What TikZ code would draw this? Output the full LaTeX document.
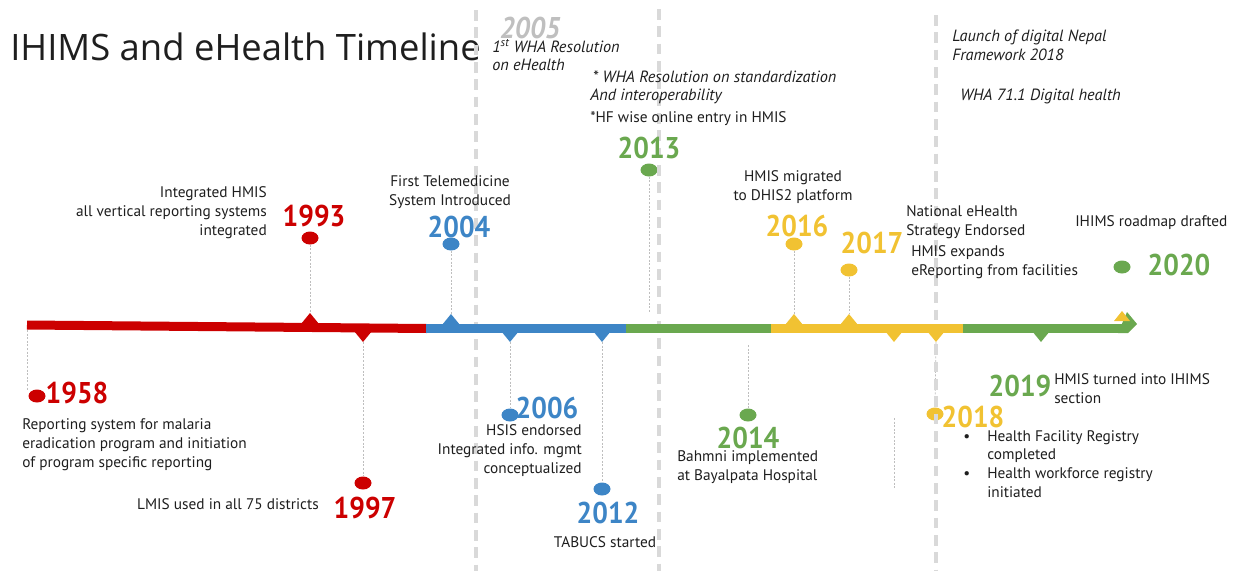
\documentclass[tikz,border=0pt]{standalone}
\usepackage{fontspec}
\setmainfont{PT Sans}
\newfontfamily\titlefont{Open Sans}
\newfontfamily\yearfont[FakeStretch=0.92]{PT Sans}
\usetikzlibrary{shapes.geometric}
\definecolor{cred}{RGB}{204,0,0}
\definecolor{cblue}{RGB}{61,133,198}
\definecolor{cgreen}{RGB}{106,168,79}
\definecolor{cyellow}{RGB}{241,194,50}
\definecolor{cgrid}{RGB}{217,217,217}
\definecolor{cconn}{RGB}{190,190,190}
\definecolor{ctext}{RGB}{30,30,30}
\definecolor{cyear05}{RGB}{191,191,191}
\tikzset{
  dotm/.style={ellipse, inner sep=0pt, minimum width=12.75pt, minimum height=9.75pt, fill=#1},
  yr/.style={font=\yearfont\bfseries\fontsize{22.5}{24}\selectfont, text=#1, inner sep=0pt},
  txt/.style={font=\fontsize{11.5}{13.9}\selectfont, text=ctext, inner sep=0pt},
  itxt/.style={font=\fontsize{12.2}{13.5}\selectfont\itshape, text=ctext, inner sep=0pt},
  conn/.style={draw=cconn, line width=0.5pt, dash pattern=on 1.5pt off 1.2pt},
  gridline/.style={draw=cgrid, line width=2.3pt, dash pattern=on 8pt off 5pt},
  bar/.style={line width=6.75pt, draw=#1}
}
\begin{document}
\begin{tikzpicture}[x=0.75pt,y=-0.75pt]
\useasboundingbox (0,0) rectangle (1248,571);

% title
\node[font=\titlefont\fontsize{27.3}{30}\selectfont, text=ctext, inner sep=0pt, anchor=base west] (title) at (10,60) {IHIMS and eHealth Timeline};

% dots
\node[dotm=cred] (d1958) at (37,396) {};
\node[dotm=cred] (d1993) at (310,238) {};
\node[dotm=cred] (d1997) at (363,483) {};
\node[dotm=cblue] (d2004) at (451,244) {};
\node[dotm=cblue] (d2006) at (510,415) {};
\node[dotm=cblue] (d2012) at (602,489) {};
\node[dotm=cgreen] (d2013) at (649,170) {};
\node[dotm=cgreen] (d2014) at (748,415) {};
\node[dotm=cyellow] (d2016) at (794,244) {};
\node[dotm=cyellow] (d2017) at (849,270) {};
\node[dotm=cyellow] (d2018) at (935,414) {};
\node[dotm=cgreen] (d2020) at (1122,267) {};

% triangle tip coordinates
\coordinate (t1958) at (27,330);
\coordinate (t1993) at (310,313);
\coordinate (t1997) at (363,342);
\coordinate (t2004) at (451,314);
\coordinate (t2006) at (510,342);
\coordinate (t2012) at (602,342);
\coordinate (t2013) at (649,313);
\coordinate (t2014) at (748,345);
\coordinate (t2016) at (794,314);
\coordinate (t2017) at (849,314);
\coordinate (ty1) at (894,342);
\coordinate (t2018) at (936,342);
\coordinate (t2019) at (1041,342);
\coordinate (t2020) at (1122,311);
\coordinate (f1) at (894,418);
\coordinate (f2) at (894,488);
\coordinate (e1958) at (27,390);

% connectors
\draw[conn] (t1958) -- (e1958);
\draw[conn] (d1993.south) -- (t1993);
\draw[conn] (t1997) -- (d1997.north);
\draw[conn] (d2004.south) -- (t2004);
\draw[conn] (t2006) -- (d2006.north);
\draw[conn] (t2012) -- (d2012.north);
\draw[conn] (d2013.south) -- (t2013);
\draw[conn] (t2014) -- (d2014.north);
\draw[conn] (d2016.south) -- (t2016);
\draw[conn] (d2017.south) -- (t2017);
\draw[conn] (t2018) -- (d2018.north);
\draw[conn] (f1) -- (f2);

% gray dashed era lines
\coordinate (g1a) at (476,10); \coordinate (g1b) at (476,571);
\coordinate (g2a) at (659,9);  \coordinate (g2b) at (659,571);
\coordinate (g3a) at (936,15); \coordinate (g3b) at (936,571);
\draw[gridline] (g1a) -- (g1b);
\draw[gridline] (g2a) -- (g2b);
\draw[gridline] (g3a) -- (g3b);

% main bar
\draw[bar=cred] (27,325) -- (427,328.5);
\draw[bar=cblue] (426,328.5) -- (627,328.5);
\draw[bar=cgreen] (626,328.5) -- (772,328.5);
\draw[bar=cyellow] (771,328.5) -- (964,328.5);
\draw[bar=cgreen] (963,328.5) -- (1128,328.5);
\fill[cgreen] (1118,333) -- (1127,312) -- (1137,324) -- (1128,333) -- cycle;

% up triangles
\fill[cred] (t1993) -- ++(9,11) -- ++(-18,0) -- cycle;
\fill[cblue] (t2004) -- ++(9,11) -- ++(-18,0) -- cycle;
\fill[cyellow] (t2016) -- ++(9,11) -- ++(-18,0) -- cycle;
\fill[cyellow] (t2017) -- ++(9,11) -- ++(-18,0) -- cycle;
\fill[cyellow] (t2020) -- ++(8,10) -- ++(-16,0) -- cycle;
% down triangles
\fill[cred] (t1997) -- ++(9,-11) -- ++(-18,0) -- cycle;
\fill[cblue] (t2006) -- ++(9,-11) -- ++(-18,0) -- cycle;
\fill[cblue] (t2012) -- ++(9,-11) -- ++(-18,0) -- cycle;
\fill[cyellow] (ty1) -- ++(9,-11) -- ++(-18,0) -- cycle;
\fill[cyellow] (t2018) -- ++(9,-11) -- ++(-18,0) -- cycle;
\fill[cgreen] (t2019) -- ++(9,-11) -- ++(-18,0) -- cycle;

% years
\node[yr=cyear05, font=\yearfont\bfseries\itshape\fontsize{22.5}{24}\selectfont] (y2005) at (530,28) {2005};
\node[yr=cgreen] (y2013) at (649,148) {2013};
\node[yr=cred] (y1993) at (314,216) {1993};
\node[yr=cblue] (y2004) at (459,227) {2004};
\node[yr=cyellow] (y2016) at (797,226) {2016};
\node[yr=cyellow] (y2017) at (872,243) {2017};
\node[yr=cgreen] (y2020) at (1179,265) {2020};
\node[yr=cred] (y1958) at (77,393) {1958};
\node[yr=cred] (y1997) at (365,508) {1997};
\node[yr=cblue] (y2006) at (547,408) {2006};
\node[yr=cblue] (y2012) at (608,513) {2012};
\node[yr=cgreen] (y2014) at (748,438) {2014};
\node[yr=cgreen] (y2019) at (1020,386) {2019};
\node[yr=cyellow] (y2018) at (973,417) {2018};

% italic top notes (base = last line baseline)
\node[itxt, anchor=base west, align=left] (n2005) at (492,70) {1\textsuperscript{st} WHA Resolution\\on eHealth};
\node[itxt, anchor=base west, align=left] (n2013a) at (590,100) {\,* WHA Resolution on standardization\\And interoperability};
\node[txt, anchor=base west] (n2013b) at (590,122) {*HF wise online entry in HMIS};
\node[itxt, anchor=base west, align=left] (n2018a) at (952,60) {Launch of digital Nepal\\Framework 2018};
\node[itxt, anchor=base west] (n2018b) at (960,100) {WHA 71.1 Digital health};

% descriptions (base = last line baseline)
\node[txt, anchor=base east, align=right] (l1993) at (267,235) {Integrated HMIS\\all vertical reporting systems\\integrated};
\node[txt, anchor=base, align=center] (l2004) at (450,205) {First Telemedicine\\System Introduced};
\node[txt, anchor=base, align=center] (l2016) at (793,200) {HMIS migrated\\to DHIS2 platform};
\node[txt, anchor=base west, align=left] (l2017a) at (906,235) {National eHealth\\Strategy Endorsed};
\node[txt, anchor=base west, align=left] (l2017b) at (911,275) {HMIS expands\\eReporting from facilities};
\node[txt, anchor=base west] (l2020) at (1075,226) {IHIMS roadmap drafted};
\node[txt, anchor=base west, align=left] (l1958) at (22,467) {Reporting system for malaria\\eradication program and initiation\\of program specific reporting};
\node[txt, anchor=base east] (l1997) at (319,509) {LMIS used in all 75 districts};
\node[txt, anchor=base east, align=right] (l2006) at (582,473) {HSIS endorsed\\Integrated info. mgmt\\conceptualized};
\node[txt, anchor=base] (l2012) at (605,547) {TABUCS started};
\node[txt, anchor=base west, align=left] (l2014) at (677,480) {Bahmni implemented\\at Bayalpata Hospital};
\node[txt, anchor=base west, align=left] (l2019) at (1054,403) {HMIS turned into IHIMS\\section};
\node[txt, anchor=base west, align=left] (l2018) at (963,497) {\makebox[18pt][l]{\textbullet}Health Facility Registry\\\hspace*{18pt}completed\\\makebox[18pt][l]{\textbullet}Health workforce registry\\\hspace*{18pt}initiated};
\end{tikzpicture}
\end{document}
